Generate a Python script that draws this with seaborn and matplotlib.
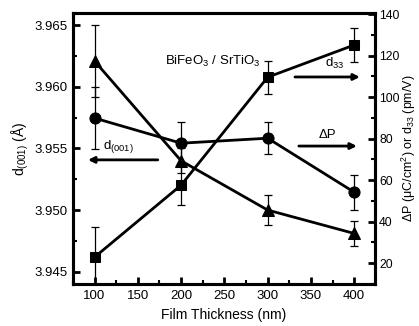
import numpy as np
import pandas as pd
import matplotlib
matplotlib.use("Agg")
import matplotlib.pyplot as plt
import seaborn as sns
from matplotlib.ticker import MultipleLocator

sns.set_style("ticks")
plt.rcParams['font.family'] = ['Liberation Sans', 'DejaVu Sans']
plt.rcParams['mathtext.fontset'] = 'custom'
plt.rcParams['mathtext.rm'] = 'Liberation Sans'
plt.rcParams['mathtext.it'] = 'Liberation Sans:italic'
plt.rcParams['text.color'] = 'black'
plt.rcParams['axes.labelcolor'] = 'black'
plt.rcParams['xtick.color'] = 'black'
plt.rcParams['ytick.color'] = 'black'

# Data
thickness = [100, 200, 300, 400]
d001 = [3.9621, 3.9540, 3.9500, 3.9481]          # triangles, left axis
d001_err = [0.0029, 0.0010, 0.0012, 0.0010]
dP = [89.9, 77.8, 80.2, 54.2]                     # circles, right axis
dP_err = [15.0, 10.0, 7.7, 8.4]
d33 = [22.9, 57.6, 109.6, 125.1]                  # squares, right axis
d33_err = [14.5, 9.6, 8.0, 8.0]

df = pd.DataFrame({'t': thickness, 'd001': d001, 'dP': dP, 'd33': d33})

fig = plt.figure(figsize=(4.19, 3.26), dpi=100)
ax = fig.add_axes([0.174, 0.129, 0.721, 0.831])
ax2 = ax.twinx()

lw = 2.0
ms = 8
sns.lineplot(data=df, x='t', y='d001', ax=ax, color='black', lw=lw,
             marker='^', markersize=ms + 1, markeredgecolor='black')
ax.errorbar(thickness, d001, yerr=d001_err, fmt='none', ecolor='black',
            elinewidth=0.9, capsize=3, capthick=0.9)

sns.lineplot(data=df, x='t', y='dP', ax=ax2, color='black', lw=lw,
             marker='o', markersize=ms, markeredgecolor='black')
ax2.errorbar(thickness, dP, yerr=dP_err, fmt='none', ecolor='black',
             elinewidth=0.9, capsize=3, capthick=0.9)
sns.lineplot(data=df, x='t', y='d33', ax=ax2, color='black', lw=lw,
             marker='s', markersize=ms - 0.5, markeredgecolor='black')
ax2.errorbar(thickness, d33, yerr=d33_err, fmt='none', ecolor='black',
             elinewidth=0.9, capsize=3, capthick=0.9)

ax.set_xlim(75, 424)
ax.set_ylim(3.944, 3.966)
ax2.set_ylim(10, 140.5)

ax.xaxis.set_major_locator(MultipleLocator(50))
ax.xaxis.set_minor_locator(MultipleLocator(25))
ax.yaxis.set_major_locator(MultipleLocator(0.005))
ax.yaxis.set_minor_locator(MultipleLocator(0.0025))
ax2.yaxis.set_major_locator(MultipleLocator(20))
ax2.yaxis.set_minor_locator(MultipleLocator(10))
ax.yaxis.set_major_formatter(matplotlib.ticker.FormatStrFormatter('%.3f'))

for a in (ax, ax2):
    for s in a.spines.values():
        s.set_linewidth(2.2)
        s.set_visible(True)
        s.set_color('black')
ax.tick_params(which='major', direction='in', length=5, width=2, labelsize=9.5,
               top=False, right=False, pad=4)
ax.tick_params(which='minor', direction='in', length=3, width=1.5,
               top=False, right=False)
ax2.tick_params(which='major', direction='in', length=5, width=2, labelsize=8.8, pad=3)
ax2.tick_params(which='minor', direction='in', length=3, width=1.5)

ax.set_xlabel('Film Thickness (nm)', fontsize=10, labelpad=5)
ax.set_ylabel(r'd$_{(001)}$ (Å)', fontsize=10, labelpad=2)
ax2.set_ylabel(r'ΔP (μC/cm$^2$) or d$_{33}$ (pm/V)', fontsize=9, labelpad=0)

# Annotations
ax.text(0.464, 0.822, r'BiFeO$_3$ / SrTiO$_3$', transform=ax.transAxes,
        ha='center', va='center', fontsize=9.5)
ax.text(0.868, 0.815, r'd$_{33}$', transform=ax.transAxes,
        ha='center', va='center', fontsize=9.5)
ax.text(0.841, 0.548, 'ΔP', transform=ax.transAxes,
        ha='center', va='center', fontsize=9.5)
ax.text(0.152, 0.508, r'd$_{(001)}$', transform=ax.transAxes,
        ha='center', va='center', fontsize=9.5)

arrow = dict(arrowstyle='-|>', color='black', lw=2, mutation_scale=9,
             shrinkA=0, shrinkB=0)
ax.annotate('', xy=(0.950, 0.764), xytext=(0.735, 0.764),
            xycoords='axes fraction', arrowprops=arrow)
ax.annotate('', xy=(0.940, 0.509), xytext=(0.748, 0.509),
            xycoords='axes fraction', arrowprops=arrow)
ax.annotate('', xy=(0.050, 0.458), xytext=(0.281, 0.458),
            xycoords='axes fraction', arrowprops=arrow)

fig.savefig('out.png', dpi=100)
